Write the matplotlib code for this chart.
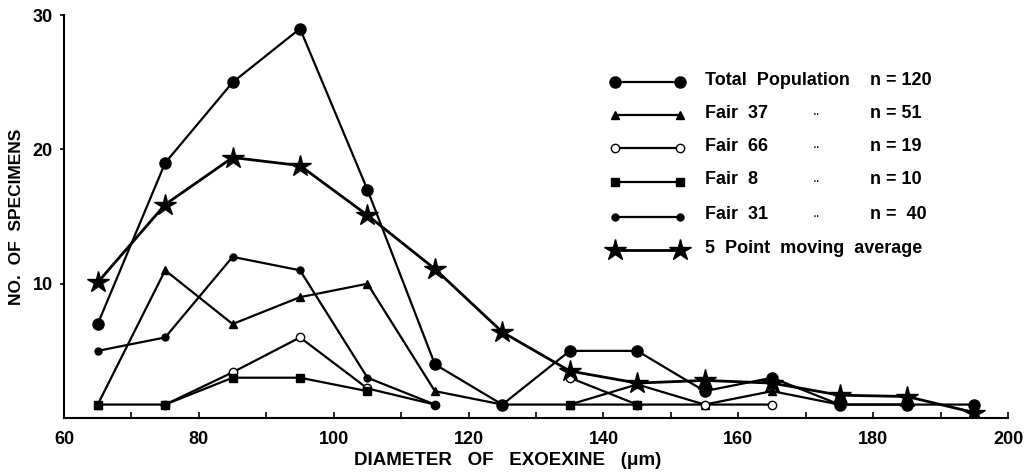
import numpy as np
import matplotlib
matplotlib.use("Agg")
import matplotlib.pyplot as plt
from matplotlib.lines import Line2D
from matplotlib.ticker import MultipleLocator

plt.rcParams['font.family'] = ['Liberation Sans', 'DejaVu Sans']

nan = np.nan
diameter = [65, 75, 85, 95, 105, 115, 125, 135, 145, 155, 165, 175, 185, 195]
total_pop = [7, 19, 25, 29, 17, 4, 1, 5, 5, 2, 3, 1, 1, 1]
fair37 = [1, 11, 7, 9, 10, 2, 1, 1, 2.5, 1, 2, 1, 1, nan]
fair66 = [nan, 1, 3.4, 6, 2.2, 1, nan, 3, 1, 1, 1, nan, nan, nan]
fair8 = [1, 1, 3, 3, 2, nan, nan, 1, 1, nan, nan, nan, nan, nan]
fair31 = [5, 6, 12, 11, 3, 1, nan, nan, nan, nan, nan, nan, nan, nan]
moving_avg = [10.1, 15.9, 19.4, 18.8, 15.1, 11.1, 6.4, 3.5, 2.6, 2.8, 2.6, 1.7, 1.6, 0.4]

legend_names = ["Total  Population", "Fair  37", "Fair  66", "Fair  8", "Fair  31",
                "5  Point  moving  average"]
legend_n = ["n = 120", "n = 51", "n = 19", "n = 10", "n =  40", ""]

fig = plt.figure(figsize=(10.29, 4.75), dpi=100)
ax = fig.add_axes([0.0622, 0.12, 0.9175, 0.848])

styles = [
    dict(marker='o', ms=8, mfc='black', mec='black', lw=1.6),
    dict(marker='^', ms=6, mfc='black', mec='black', lw=1.6),
    dict(marker='o', ms=6, mfc='white', mec='black', mew=1.0, lw=1.6),
    dict(marker='s', ms=5.5, mfc='black', mec='black', lw=1.6),
    dict(marker='o', ms=5, mfc='black', mec='black', lw=1.6),
    dict(marker='*', ms=16, mfc='black', mec='black', lw=2.0),
]
series = [total_pop, fair37, fair66, fair8, fair31, moving_avg]
x = np.array(diameter, dtype=float)
for s, st in zip(series, styles):
    ax.plot(x, np.array(s, dtype=float), color='black', zorder=3, **st)

ax.set_xlim(60, 200)
ax.set_ylim(0, 30)
for side in ['top', 'right']:
    ax.spines[side].set_visible(False)
for side in ['left', 'bottom']:
    ax.spines[side].set_linewidth(1.5)

ax.set_xticks(np.arange(60, 201, 20))
ax.xaxis.set_minor_locator(MultipleLocator(10))
ax.set_yticks([10, 20, 30])
ax.tick_params(axis='x', which='both', direction='in', length=4, width=1.2, pad=9,
               labelsize=13)
ax.tick_params(axis='y', which='both', direction='out', length=3, width=1.2, pad=5,
               labelsize=13)
for lab in ax.get_xticklabels() + ax.get_yticklabels():
    lab.set_fontweight('bold')

ax.set_xlabel("DIAMETER   OF   EXOEXINE   (\u03bcm)", fontsize=13.5, fontweight='bold')
ax.xaxis.set_label_coords(0.47, -0.085, transform=ax.transAxes)
ax.xaxis.label.set_va('top')
ax.set_ylabel("NO.  OF  SPECIMENS", fontsize=12.5, fontweight='bold', labelpad=6)

# manual legend
rows_y = [0.834, 0.752, 0.670, 0.586, 0.499, 0.417]
x0, x1 = 0.584, 0.6525
for ry, st, name, nn, i in zip(rows_y, styles, legend_names, legend_n, range(6)):
    ln = Line2D([x0, x1], [ry, ry], transform=ax.transAxes, color='black',
                clip_on=False, **st)
    ax.add_line(ln)
    ax.text(0.679, ry + 0.005, name, transform=ax.transAxes, fontsize=13,
            fontweight='bold', va='center', ha='left')
    if 1 <= i <= 4:
        ax.text(0.793, ry + 0.01, "..", transform=ax.transAxes, fontsize=10,
                va='center', ha='left')
    if nn:
        ax.text(0.854, ry + 0.005, nn, transform=ax.transAxes, fontsize=13,
                fontweight='bold', va='center', ha='left')

fig.savefig("out.png", dpi=100)
